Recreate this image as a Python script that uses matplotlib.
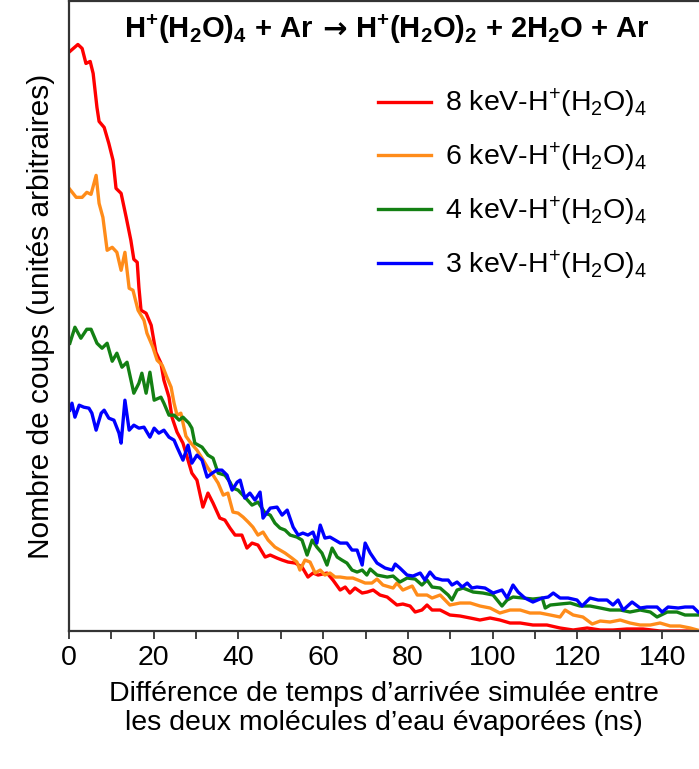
"""Simulated arrival-time difference of the two evaporated water molecules."""

import matplotlib.pyplot as plt

plt.rcParams["font.family"] = ["Liberation Sans", "DejaVu Sans"]
plt.rcParams["mathtext.default"] = "regular"

# time (ns) and counts (arbitrary units)
t_8kev = [0.2, 2.1, 3.1, 4.0, 5.0, 5.7, 6.6, 7.1, 8.3, 9.4, 10.4, 11.1, 12.3, 13.5, 14.6, 15.3,
          16.1, 16.5, 17.0, 18.2, 19.4, 20.5, 21.7, 22.4, 23.6, 24.3, 25.5, 26.9, 29.0, 30.2,
          31.6, 32.8, 34.0, 35.6, 36.8, 38.0, 39.2, 40.8, 42.0, 43.2, 44.6, 46.3, 47.5, 49.1,
          50.3, 51.7, 53.4, 55.0, 56.4, 57.6, 58.8, 60.9, 62.3, 64.0, 65.2, 66.3, 67.5, 69.2,
          70.4, 71.8, 73.4, 75.1, 77.4, 78.8, 80.5, 81.7, 83.3, 84.5, 85.7, 87.6, 89.9, 92.3,
          94.7, 97.0, 99.4, 101.7, 104.1, 106.5, 109.5, 112.8, 115.9, 119.0, 122.3, 125.4,
          128.4, 131.7, 135.5, 139.5, 143.5, 147.3]
n_8kev = [580, 587, 583, 568, 570, 558, 524, 510, 504, 488, 471, 443, 438, 414, 391, 372,
          369, 344, 321, 318, 306, 279, 268, 251, 234, 214, 199, 188, 158, 151,
          124, 138, 128, 113, 111, 103, 96, 96, 83, 88, 86, 74, 76, 73,
          71, 69, 68, 64, 54, 58, 56, 58, 51, 41, 44, 38, 43, 38,
          39, 41, 36, 34, 26, 27, 25, 19, 21, 26, 21, 21, 16, 15,
          13, 11, 13, 11, 8, 8, 6, 6, 3, 1, 3, 1,
          1, 2, 2, 0, 0, 0]

t_6kev = [0.2, 1.7, 3.1, 4.2, 5.2, 6.4, 7.1, 8.0, 9.0, 10.2, 11.3, 12.3, 13.2, 14.2, 15.1,
          16.3, 17.7, 18.4, 19.8, 20.8, 22.0, 23.1, 24.1, 24.8, 25.5, 26.4, 27.6, 28.6, 30.2,
          31.4, 32.8, 34.0, 35.2, 36.4, 37.5, 38.7, 39.9, 41.1, 42.3, 43.4, 44.6, 45.8, 47.0,
          48.6, 49.8, 51.0, 52.6, 53.8, 54.5, 55.7, 56.9, 58.1, 59.3, 60.4, 61.6, 62.8, 64.0,
          65.6, 67.0, 68.2, 69.9, 71.5, 72.7, 74.1, 76.5, 77.4, 78.8, 81.0, 82.2, 84.5, 85.7,
          87.6, 89.9, 92.3, 94.7, 97.0, 99.4, 101.7, 104.1, 106.5, 108.8, 111.2, 113.6, 115.9,
          117.1, 119.0, 121.3, 123.5, 125.4, 127.7, 130.1, 132.4, 134.8, 137.2, 139.5, 141.9,
          144.2, 146.6, 148.3]
n_6kev = [442, 434, 434, 439, 437, 456, 428, 414, 381, 384, 379, 361, 379, 343, 341,
          321, 311, 298, 284, 271, 266, 254, 244, 228, 216, 218, 195, 189, 181,
          173, 163, 156, 148, 136, 138, 119, 118, 114, 109, 104, 96, 99, 91,
          84, 81, 78, 73, 69, 61, 71, 69, 58, 61, 56, 58, 54, 54,
          53, 53, 51, 48, 48, 52, 46, 43, 48, 41, 45, 36, 36, 33,
          36, 26, 28, 28, 25, 23, 18, 21, 21, 18, 18, 16, 14,
          21, 16, 14, 7, 10, 9, 11, 8, 6, 6, 8, 5,
          5, 3, 1]

t_4kev = [0.2, 1.4, 2.8, 4.2, 5.2, 6.6, 7.8, 9.0, 10.2, 11.3, 12.5, 13.7, 15.3, 16.5, 17.2,
          18.2, 19.1, 20.1, 21.7, 22.4, 23.6, 24.8, 26.0, 26.9, 28.3, 29.0, 29.7, 31.4, 32.8,
          34.0, 35.2, 36.8, 38.0, 38.7, 39.9, 41.5, 43.2, 44.6, 46.3, 47.5, 48.6, 49.8, 51.0,
          52.2, 53.8, 55.0, 56.2, 57.4, 58.5, 59.7, 60.9, 62.1, 63.3, 64.4, 65.6, 66.8, 68.0,
          69.2, 70.3, 71.1, 72.7, 75.1, 76.5, 78.1, 79.8, 81.7, 83.3, 84.5, 85.7, 87.6, 89.5,
          90.4, 91.6, 93.0, 95.4, 97.7, 100.1, 102.2, 103.4, 104.8, 107.2, 109.5, 111.7, 112.4,
          113.6, 115.9, 118.3, 120.6, 123.0, 125.4, 127.7, 130.1, 132.4, 134.8, 137.2, 138.8,
          141.2, 143.5, 145.4, 147.3, 148.5]
n_4kev = [288, 304, 293, 302, 302, 288, 283, 288, 270, 278, 264, 269, 238, 248, 258,
          238, 259, 231, 234, 228, 216, 216, 211, 214, 208, 203, 188, 184, 176,
          173, 158, 156, 149, 143, 141, 134, 126, 129, 118, 116, 108, 103, 101,
          96, 94, 91, 76, 91, 84, 78, 66, 83, 74, 71, 68, 61, 59,
          61, 56, 62, 56, 54, 55, 49, 53, 52, 46, 51, 44, 43, 36,
          31, 41, 43, 39, 38, 36, 25, 31, 34, 33, 32, 33, 23,
          26, 27, 28, 25, 25, 23, 21, 21, 19, 21, 19, 14,
          19, 19, 16, 16, 16]

t_3kev = [0.2, 0.7, 1.4, 2.4, 3.5, 4.7, 5.4, 6.4, 7.6, 8.3, 9.4, 10.6, 11.8, 12.3, 13.2,
          14.2, 15.3, 16.5, 17.7, 19.1, 20.1, 21.2, 22.4, 23.6, 24.8, 25.5, 26.9, 28.1, 29.0,
          30.2, 31.4, 32.6, 33.8, 34.9, 36.1, 37.3, 38.5, 39.7, 40.4, 41.5, 42.7, 43.9, 45.1,
          45.8, 47.5, 49.1, 50.3, 51.5, 52.9, 54.1, 55.2, 56.4, 57.6, 58.5, 59.3, 60.4, 61.6,
          62.8, 64.0, 65.6, 66.8, 68.0, 69.2, 69.9, 71.1, 72.7, 74.6, 76.3, 77.0, 78.1, 79.8,
          81.2, 82.9, 84.0, 85.2, 86.4, 88.1, 89.5, 90.4, 91.6, 92.8, 94.0, 95.1, 96.3, 98.2,
          100.1, 102.2, 103.4, 104.8, 106.0, 107.6, 109.5, 111.7, 113.1, 114.3, 115.9, 117.8,
          119.9, 121.1, 123.0, 124.9, 127.0, 128.4, 129.6, 130.8, 132.9, 134.8, 136.4, 138.8,
          140.0, 141.4, 143.8, 145.4, 147.3, 148.5]
n_3kev = [221, 228, 214, 226, 224, 223, 218, 201, 218, 221, 213, 211, 198, 188, 231,
          201, 206, 203, 204, 194, 203, 198, 201, 194, 191, 184, 171, 186, 168,
          176, 171, 154, 158, 161, 161, 156, 141, 149, 151, 133, 138, 131, 139,
          113, 123, 124, 116, 121, 104, 96, 98, 96, 99, 88, 106, 93, 94,
          91, 88, 88, 81, 81, 66, 88, 78, 68, 63, 61, 67, 63, 56,
          55, 58, 51, 59, 53, 51, 51, 46, 49, 44, 48, 43, 44, 43,
          38, 41, 33, 46, 39, 33, 29, 33, 34, 38, 33, 33,
          31, 25, 33, 31, 31, 26, 31, 21, 29, 23, 24, 24,
          19, 24, 23, 24, 24, 19]

series = [
    (t_8kev, n_8kev, "#ff0000", r"8 keV-H$^{+}$(H$_{2}$O)$_{4}$"),
    (t_6kev, n_6kev, "#ff8c1a", r"6 keV-H$^{+}$(H$_{2}$O)$_{4}$"),
    (t_4kev, n_4kev, "#138013", r"4 keV-H$^{+}$(H$_{2}$O)$_{4}$"),
    (t_3kev, n_3kev, "#0000ff", r"3 keV-H$^{+}$(H$_{2}$O)$_{4}$"),
]

# title pieces; the arrow comes from DejaVu Sans, which draws a bolder one
title_parts = [
    (r"H$^{+}$(H$_{2}$O)$_{4}$ + Ar", "Liberation Sans"),
    (" →", "DejaVu Sans"),
    (r" H$^{+}$(H$_{2}$O)$_{2}$ + 2H$_{2}$O + Ar", "Liberation Sans"),
]

fig = plt.figure(figsize=(6.99, 7.69), dpi=100)
ax = fig.add_axes([69 / 699, 138 / 769, 1 - 69 / 699, 1 - 139.5 / 769])

for t, n, color, label in series:
    ax.plot(t, n, color=color, linewidth=2.4, label=label)

ax.set_xlim(0, 148.7)
ax.set_ylim(0, 630)
ax.set_xticks(range(0, 141, 20))
ax.set_xticks(range(10, 141, 20), minor=True)
ax.set_yticks([])
ax.tick_params(axis="x", which="both", direction="out", length=6, width=1.3,
               color="#333333", labelsize=20.5, pad=4)
for side in ["left", "bottom", "top"]:
    ax.spines[side].set_linewidth(1.6)
    ax.spines[side].set_color("#333333")
ax.spines["right"].set_visible(False)

ax.set_xlabel("Différence de temps d’arrivée simulée entre\nles deux molécules d’eau évaporées (ns)",
              fontsize=20.5, labelpad=7, linespacing=1.15)
ax.set_ylabel("Nombre de coups (unités arbitraires)", fontsize=21.5, labelpad=10)

# lay the title pieces side by side, then centre the group
renderer = fig.canvas.get_renderer()
pieces = []
x_pos = 0.0
for text, family in title_parts:
    piece = fig.text(x_pos, 1 - 38 / 769, text, family=family, fontsize=21,
                     fontweight="bold", ha="left", va="baseline")
    pieces.append((piece, x_pos))
    x_pos += piece.get_window_extent(renderer).width / fig.bbox.width
shift = 387 / 699 - x_pos / 2
for piece, x0 in pieces:
    piece.set_x(x0 + shift)

ax.legend(loc="upper left", bbox_to_anchor=(378 / 699, 1 - 87 / 769),
          bbox_transform=fig.transFigure, frameon=False, fontsize=20.5,
          handlelength=1.85, handletextpad=0.5, labelspacing=0.72, borderpad=0,
          borderaxespad=0)

fig.savefig("out.png", dpi=100)
